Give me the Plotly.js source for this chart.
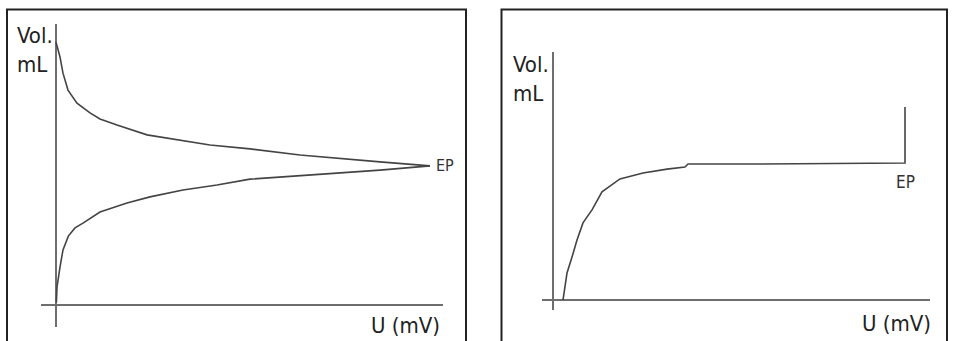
<!DOCTYPE html>
<html>
<head>
<meta charset="utf-8">
<script src="https://cdn.plot.ly/plotly-3.0.1.min.js"></script>
<style>html,body{margin:0;padding:0;background:#fff;}#chart{width:953px;height:341px;}</style>
</head>
<body>
<div id="chart"></div>
<script>
// Left panel: potentiometric titration (two branches converging at EP)
const leftUpperU   = [0, 1.07, 1.87, 3.21, 5.61, 9.09, 11.76, 16.31, 24.33, 32.35, 41.18, 51.87, 65.24, 86.63, 100];
const leftUpperVol = [9.92, 9.36, 8.75, 8.11, 7.62, 7.25, 7.02, 6.79, 6.42, 6.23, 6.04, 5.89, 5.66, 5.40, 5.25];
const leftLowerU   = [0.1, 0.27, 1.07, 1.87, 3.3, 5.08, 7.22, 11.76, 18.98, 25.13, 33.96, 43.05, 51.87, 65.24, 86.63, 100];
const leftLowerVol = [0.1, 0.68, 1.43, 2.08, 2.6, 2.91, 3.09, 3.51, 3.85, 4.08, 4.34, 4.53, 4.75, 4.87, 5.09, 5.25];
// Right panel: volume vs potential with vertical jump at EP
const rightU   = [2.84, 3.98, 5.40, 6.82, 8.52, 11.08, 13.92, 19.03, 25.57, 32.39, 37.5, 38.35, 55.97, 100, 100];
const rightVol = [0, 1.02, 1.62, 2.26, 2.91, 3.40, 4.08, 4.57, 4.79, 4.94, 5.02, 5.13, 5.13, 5.17, 7.28];
// Labels
const yLabel = "Vol.<br>mL";
const xLabel = "U (mV)";
const epLabel = "EP";

const curveLine = {color: "#444", width: 1.6};
const FONT = "'DejaVu Sans Condensed', 'Liberation Sans Narrow', 'Liberation Sans', Arial, sans-serif";

const traces = [
  {x: leftUpperU, y: leftUpperVol, xaxis: "x", yaxis: "y", mode: "lines", line: curveLine, hoverinfo: "skip"},
  {x: leftLowerU, y: leftLowerVol, xaxis: "x", yaxis: "y", mode: "lines", line: curveLine, hoverinfo: "skip"},
  {x: rightU, y: rightVol, xaxis: "x2", yaxis: "y2", mode: "lines", line: curveLine, hoverinfo: "skip"}
];

const axBase = {showgrid: false, showticklabels: false, ticks: "", zeroline: true,
  zerolinecolor: "#6e6e6e", zerolinewidth: 2.4, showline: false, fixedrange: true};

const W = 953, H = 341;
const px = v => v / W, py = v => 1 - v / H;

const layout = {
  width: W, height: H,
  margin: {l: 0, r: 0, t: 0, b: 0},
  paper_bgcolor: "#fff", plot_bgcolor: "rgba(0,0,0,0)",
  showlegend: false,
  font: {family: FONT, color: "#222"},
  xaxis:  Object.assign({}, axBase, {domain: [px(41), px(443)], range: [-4.01, 103.48]}),
  yaxis:  Object.assign({}, axBase, {domain: [py(327), py(24)], range: [-0.83, 10.604]}),
  xaxis2: Object.assign({}, axBase, {domain: [px(542), px(930)], range: [-3.125, 107.1], anchor: "y2"}),
  yaxis2: Object.assign({}, axBase, {domain: [py(310), py(52)], range: [-0.377, 9.358], anchor: "x2"}),
  shapes: [
    {type: "path", xref: "paper", yref: "paper",
     path: `M ${px(7)} -0.1 L ${px(7)} ${py(9.5)} L ${px(466)} ${py(9.5)} L ${px(466)} -0.1`,
     line: {color: "#222", width: 2}},
    {type: "path", xref: "paper", yref: "paper",
     path: `M ${px(501.5)} -0.1 L ${px(501.5)} ${py(9.5)} L ${px(947)} ${py(9.5)} L ${px(947)} -0.1`,
     line: {color: "#222", width: 2}}
  ],
  annotations: [
    {text: yLabel, xref: "paper", yref: "paper", x: px(15), y: py(50), xanchor: "left", yanchor: "middle",
     align: "left", showarrow: false, font: {size: 22, color: "#222", family: FONT}},
    {text: xLabel, xref: "paper", yref: "paper", x: px(442), y: py(325), xanchor: "right", yanchor: "middle",
     showarrow: false, font: {size: 22, color: "#222", family: FONT}},
    {text: epLabel, xref: "x", yref: "y", x: leftUpperU[leftUpperU.length - 1], y: leftUpperVol[leftUpperVol.length - 1],
     xanchor: "left", yanchor: "middle", xshift: 4, showarrow: false, font: {size: 16, color: "#333", family: FONT}},
    {text: yLabel, xref: "paper", yref: "paper", x: px(511), y: py(79), xanchor: "left", yanchor: "middle",
     align: "left", showarrow: false, font: {size: 22, color: "#222", family: FONT}},
    {text: xLabel, xref: "paper", yref: "paper", x: px(933), y: py(323), xanchor: "right", yanchor: "middle",
     showarrow: false, font: {size: 22, color: "#222", family: FONT}},
    {text: epLabel, xref: "x2", yref: "y2", x: rightU[rightU.length - 2], y: rightVol[rightVol.length - 2],
     xanchor: "center", yanchor: "top", yshift: -7, showarrow: false, font: {size: 17, color: "#333", family: FONT}}
  ]
};

Plotly.newPlot("chart", traces, layout, {staticPlot: true, displayModeBar: false});
</script>
</body>
</html>
